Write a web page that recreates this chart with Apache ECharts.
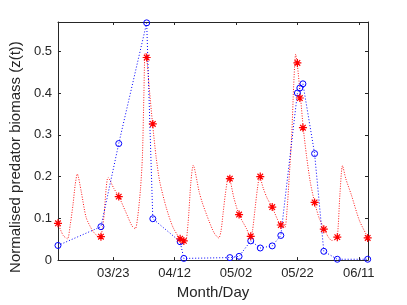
<!DOCTYPE html>
<html>
<head>
<meta charset="utf-8">
<script src="https://cdn.jsdelivr.net/npm/echarts@6/dist/echarts.min.js"></script>
<style>
html,body{margin:0;padding:0;background:#fff;}
#c{width:407px;height:305px;}
</style>
</head>
<body>
<div id="c"></div>
<script>
// x values are days counted from 03/03 (so 03/23 = day 20)
var sampleDays = [2, 16, 21.8, 30.9, 32.9, 41.8, 43, 58, 61, 64.8, 67.9, 71.8, 74.6, 80, 80.8, 81.8, 85.6, 88.6, 93, 102.9];
var observedBlue = [0.035, 0.080, 0.279, 0.568, 0.099, 0.044, 0.004, 0.006, 0.009, 0.046, 0.029, 0.034, 0.059, 0.400, 0.412, 0.422, 0.255, 0.021, 0.002, 0.002];
var sampledRed = [0.088, 0.056, 0.152, 0.485, 0.326, 0.051, 0.046, 0.195, 0.109, 0.057, 0.200, 0.127, 0.084, 0.472, 0.388, 0.317, 0.138, 0.074, 0.055, 0.053];

var modelDays = [2.0, 3.7, 5.1, 6.0, 6.9, 7.6, 8.3, 9.58, 11.18, 13.3, 14.9, 15.44, 15.98, 16.56, 17.04, 17.68, 18.32, 20.24, 21.84, 23.98, 26.1, 27.18, 27.92, 28.88, 29.52, 30.0, 30.38, 30.9, 31.76, 32.82, 34.0, 35.18, 37.3, 39.44, 41.78, 42.96, 43.6, 44.4, 45.3, 46.06, 47.98, 49.04, 51.18, 52.88, 54.38, 55.12, 55.76, 56.5, 57.58, 58.0, 59.28, 60.98, 63.44, 64.72, 65.36, 66.16, 66.96, 67.7, 68.88, 70.16, 71.76, 74.1, 74.96, 75.92, 76.72, 77.3, 78.16, 78.8, 79.44, 79.92, 81.04, 81.9, 82.96, 84.24, 85.62, 87.12, 88.82, 90.0, 91.18, 91.92, 92.98, 93.84, 94.7, 95.76, 97.58, 100.24, 102.9];
var modelValues = [0.088, 0.059, 0.051, 0.085, 0.133, 0.180, 0.206, 0.164, 0.102, 0.070, 0.057, 0.053, 0.056, 0.080, 0.109, 0.170, 0.198, 0.171, 0.152, 0.117, 0.082, 0.075, 0.100, 0.170, 0.250, 0.400, 0.495, 0.485, 0.410, 0.326, 0.245, 0.187, 0.125, 0.079, 0.051, 0.046, 0.045, 0.090, 0.187, 0.227, 0.164, 0.137, 0.094, 0.065, 0.053, 0.070, 0.110, 0.156, 0.202, 0.195, 0.150, 0.109, 0.075, 0.055, 0.070, 0.120, 0.170, 0.200, 0.172, 0.148, 0.127, 0.088, 0.082, 0.078, 0.130, 0.195, 0.300, 0.420, 0.493, 0.472, 0.388, 0.317, 0.250, 0.185, 0.138, 0.100, 0.074, 0.056, 0.047, 0.048, 0.055, 0.156, 0.226, 0.195, 0.156, 0.094, 0.055];

var xTickDays = [20, 40, 60, 80, 100];
var xTickLabels = ['03/23', '04/12', '05/02', '05/22', '06/11'];
var yTickValues = [0, 0.1, 0.2, 0.3, 0.4, 0.5];
var yTickLabels = ['0', '0.1', '0.2', '0.3', '0.4', '0.5'];

function zip(a, b) { return a.map(function (v, i) { return [v, b[i]]; }); }

var AX = '#262626';
var FONT = 'Liberation Sans, Arial, Helvetica, sans-serif';
var xMin = 2, xMax = 103, yMin = 0, yMax = 0.57;

function xAxisCfg(pos, show) {
  return {
    type: 'value', position: pos, min: xMin, max: xMax,
    name: show ? 'Month/Day' : '', nameLocation: 'middle', nameGap: 22,
    nameTextStyle: { color: AX, fontSize: 15, fontFamily: FONT },
    axisLine: { show: true, onZero: false, lineStyle: { color: AX, width: 1 } },
    axisTick: { show: true, inside: true, length: 3, customValues: xTickDays, lineStyle: { color: AX } },
    axisLabel: {
      show: show, customValues: xTickDays, margin: 7, color: AX, fontSize: 13, fontFamily: FONT,
      formatter: function (v) { var i = xTickDays.indexOf(v); return i >= 0 ? xTickLabels[i] : ''; }
    },
    splitLine: { show: false }
  };
}
function yAxisCfg(pos, show) {
  return {
    type: 'value', position: pos, min: yMin, max: yMax,
    name: show ? 'Normalised predator biomass (z(t))' : '', nameLocation: 'middle', nameGap: 27,
    nameTextStyle: { color: AX, fontSize: 15, fontFamily: FONT, padding: [0, 32, 0, 0] },
    axisLine: { show: true, onZero: false, lineStyle: { color: AX, width: 1 } },
    axisTick: { show: true, inside: true, length: 3, customValues: yTickValues, lineStyle: { color: AX } },
    axisLabel: {
      show: show, customValues: yTickValues, margin: 6, color: AX, fontSize: 13, fontFamily: FONT,
      formatter: function (v) {
        for (var i = 0; i < yTickValues.length; i++) if (Math.abs(yTickValues[i] - v) < 1e-9) return yTickLabels[i];
        return '';
      }
    },
    splitLine: { show: false }
  };
}

var star = 'path://M5,0L5,10M0,5L10,5M1.5,1.5L8.5,8.5M1.5,8.5L8.5,1.5';

var chart = echarts.init(document.getElementById('c'), null, { renderer: 'canvas' });
chart.setOption({
  animation: false,
  backgroundColor: '#ffffff',
  grid: { left: 53, right: 39, top: 22, bottom: 38, containLabel: false },
  xAxis: [xAxisCfg('bottom', true), xAxisCfg('top', false)],
  yAxis: [yAxisCfg('left', true), yAxisCfg('right', false)],
  series: [
    {
      name: 'model', type: 'line', data: zip(modelDays, modelValues), smooth: 0.25,
      showSymbol: false, symbol: 'none', clip: false,
      lineStyle: { color: 'rgba(255,0,0,0.9)', width: 1, type: [1, 1.5] },
      z: 1
    },
    {
      name: 'observed', type: 'line', data: zip(sampleDays, observedBlue), clip: false,
      symbol: 'circle', symbolSize: 6, showAllSymbol: true,
      itemStyle: { color: 'rgba(0,0,0,0)', borderColor: '#0000ff', borderWidth: 1 },
      lineStyle: { color: '#0000ff', width: 1, type: [1, 2] },
      z: 2
    },
    {
      name: 'sampled', type: 'scatter', data: zip(sampleDays, sampledRed), clip: false,
      symbol: star, symbolSize: 8,
      itemStyle: { color: '#ff0000', borderColor: '#ff0000', borderWidth: 1.2, opacity: 1 },
      z: 3
    }
  ]
});
</script>
</body>
</html>
